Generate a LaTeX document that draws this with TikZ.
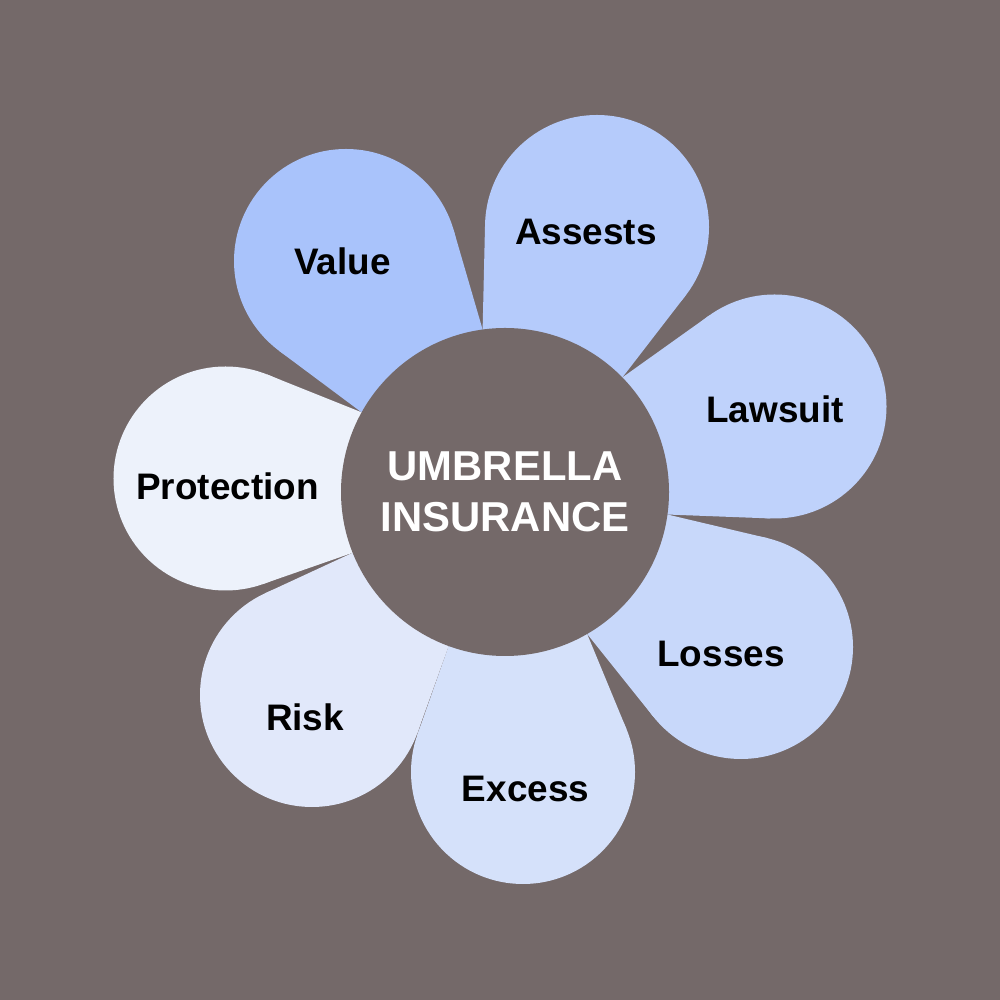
\documentclass[tikz,border=0pt]{standalone}
\usepackage{fontspec}
\setmainfont{Liberation Sans}
\usepackage{tikz}
\definecolor{UmbBg}{HTML}{746969}
\definecolor{PetValue}{HTML}{A9C3FB}
\definecolor{PetAssets}{HTML}{B5CBFB}
\definecolor{PetLawsuit}{HTML}{BFD2FB}
\definecolor{PetLosses}{HTML}{C8D8FA}
\definecolor{PetExcess}{HTML}{D5E1FA}
\definecolor{PetRisk}{HTML}{E1E8FA}
\definecolor{PetProtect}{HTML}{EDF2FB}

\begin{document}
\begin{tikzpicture}
  \tikzstyle{bulb}=[circle,inner sep=0pt,outer sep=0pt,minimum size=2.24cm]
  \tikzstyle{pettext}=[inner sep=0pt,text=black,
    font=\bfseries\fontsize{10.5}{12}\selectfont]
  \fill[UmbBg] (-5.05,-5.08) rectangle (4.95,4.92);
  % round ends of the petals
  \node[bulb,fill=PetValue] (p1) at (-1.59,2.31) {};
  \node[bulb,fill=PetAssets] (p2) at (0.92,2.65) {};
  \node[bulb,fill=PetLawsuit] (p3) at (2.695,0.855) {};
  \node[bulb,fill=PetLosses] (p4) at (2.36,-1.55) {};
  \node[bulb,fill=PetExcess] (p5) at (0.18,-2.80) {};
  \node[bulb,fill=PetRisk] (p6) at (-1.93,-2.03) {};
  \node[bulb,fill=PetProtect] (p7) at (-2.795,0.135) {};
  % tapered part of each petal (tangents from the hub rim)
  \fill[PetValue] (0,0) -- (150.95:1.64) -- (-2.2596,1.4120)
    -- (-0.5149,2.6230) -- (97.85:1.64) -- cycle;
  \fill[PetAssets] (0,0) -- (97.85:1.64) -- (-0.1996,2.6758)
    -- (1.8067,1.9658) -- (44.3:1.64) -- cycle;
  \fill[PetLawsuit] (0,0) -- (44.3:1.64) -- (2.0445,1.7666)
    -- (2.6528,-0.2644) -- (-7.9:1.64) -- cycle;
  \fill[PetLosses] (0,0) -- (-7.9:1.64) -- (2.6175,-0.4601)
    -- (1.4856,-2.2496) -- (-59.95:1.64) -- cycle;
  \fill[PetExcess] (0,0) -- (-59.95:1.64) -- (1.2150,-2.3722)
    -- (-0.8762,-2.4280) -- (-110.1:1.64) -- cycle;
  \fill[PetRisk] (0,0) -- (-110.1:1.64) -- (-0.8761,-2.4089)
    -- (-2.4002,-1.0136) -- (-158.25:1.64) -- cycle;
  \fill[PetProtect] (0,0) -- (-158.25:1.64) -- (-2.4264,-0.9225)
    -- (-2.3786,1.1749) -- (150.95:1.64) -- cycle;
  % hub
  \node[circle,fill=UmbBg,minimum size=3.28cm,inner sep=0pt,align=center,
    text=white,font=\bfseries\fontsize{11.9}{14.5}\selectfont] (hub) at (0,0)
    {UMBRELLA\\INSURANCE};
  % labels
  \node[pettext] (t1) at (-1.625,2.31) {Value};
  \node[pettext] (t2) at (0.81,2.60) {Assests};
  \node[pettext] (t3) at (2.70,0.83) {Lawsuit};
  \node[pettext] (t4) at (2.16,-1.62) {Losses};
  \node[pettext] (t5) at (0.205,-2.97) {Excess};
  \node[pettext] (t6) at (-2.00,-2.25) {Risk};
  \node[pettext] (t7) at (-2.775,0.055) {Protection};
\end{tikzpicture}
\end{document}
